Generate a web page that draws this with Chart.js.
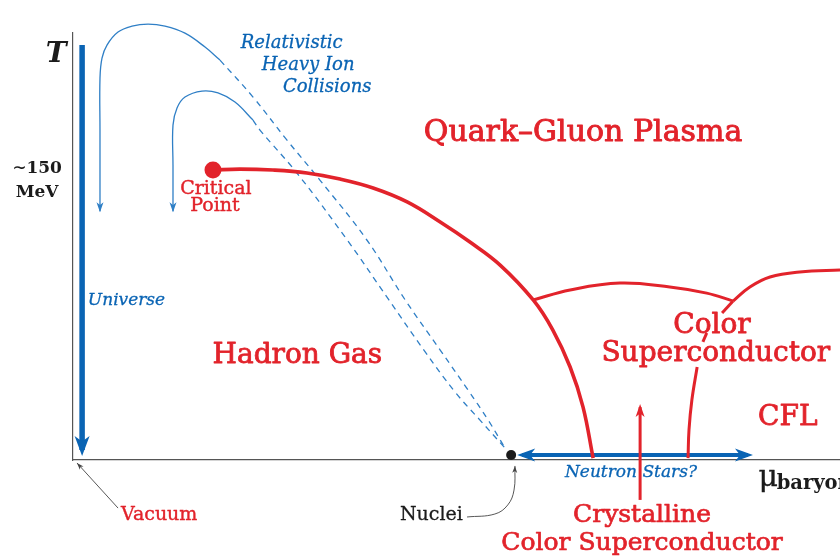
<!DOCTYPE html>
<html>
<head>
<meta charset="utf-8">
<title>QCD phase diagram</title>
<script src="https://cdn.jsdelivr.net/npm/chart.js@4.4.0/dist/chart.umd.min.js"></script>
<style>
    html, body { margin: 0; padding: 0; background: #fff; overflow: hidden; }
    #wrap { width: 840px; height: 557px; }
    canvas { display: block; }
</style>
</head>
<body>
<div id="wrap"><canvas id="phaseChart" width="840" height="557"></canvas></div>
<script>
// axis ranges: baryon chemical potential (x) and temperature (y), MeV
const MU_MAX = 1600;
const T_MAX = 230;

// phase boundaries, [mu, T]
const transitionLine = [[292, 156.2], [348, 156.7], [417, 156.2], [488, 154.6], [557, 151.3], [626, 146.5], [697, 139], [766, 128.2], [828, 117.4], [891, 105], [960, 86.2], [1001, 70], [1037, 50.1], [1064, 28.5], [1085, 1]];
const criticalPoint = [[292, 156.2]];
const scUpperLine = [[960, 86.2], [1037, 91.6], [1141, 95.3], [1245, 93.2], [1322, 89.9], [1377, 85.6]];
const cflUpperLine = [[1377, 85.6], [1412, 93.2], [1454, 98.6], [1516, 101.3], [1600, 102.3], [1640, 102.6]];
const cflLineTop = [[1377, 85.6], [1354, 79.2]];
const cflLineMid = [[1322, 68.4], [1314, 63.6]];
const cflLineLow = [[1302, 50.1], [1291, 32.3], [1285, 16.2], [1283, 1]];
const crystallineArrow = [[1183, -21.5], [1183, 28.5]];

// trajectories
const universeLine = [[19, 223.5], [19, 5.4]];
const neutronStars = [[937, 2.7], [1408, 2.7]];
const nucleiPoint = [[914, 2.7]];
const outerSolid = [[306.6, 215.4], [275.4, 222.4], [233.6, 229.9], [191.9, 233.7], [156.5, 234.8], [123.1, 233.7], [93.9, 230.5], [70.9, 223.5], [60.5, 216.5], [56.3, 205.7], [56.3, 177.7], [56.3, 134]];
const outerDashed = [[306.6, 215.4], [375.5, 195.5], [446, 172.4], [515, 150.8], [613, 118.5], [693, 86.2], [766, 59.2], [824, 37.7], [866, 21.5], [901, 6.5]];
const innerSolid = [[375.5, 183.1], [337.9, 192.8], [302.5, 197.7], [269.1, 198.7], [233.6, 195.5], [217, 189.6], [208.6, 180.4], [208.6, 158.9], [208.6, 134]];
const innerDashed = [[375.5, 183.1], [390, 177.7], [467, 154.6], [572, 118.5], [659, 86.2], [732, 59.2], [797, 36.6], [849, 21.5], [901, 6.5]];

// pointers below the axis
const vacuumPointer = [[94, -25.9], [8.3, -1.6]];
const nucleiPointer = [[822, -30.7], [880, -29.1], [907, -24.2], [920, -16.2], [922, -3.2]];

const RED = '#e2232b';
const BLUE = '#0a64b4';
const THIN_BLUE = '#2f7fc6';
const INK = '#1b1b1b';
const GRAY = '#555';

// text: [text, mu, T, align, size, style, color, extra weight]
const diagramLabels = [
    ['T', -35, 214.4, 'center', 28, 'italic bold', INK, 0],
    ['\u223C150', -75, 154.6, 'center', 17, 'bold', INK, 0],
    ['MeV', -75, 141.7, 'center', 17, 'bold', INK, 0],
    ['Relativistic', 350, 221.9, 'left', 18, 'italic', BLUE, 0.3],
    ['Heavy Ion', 394, 210.1, 'left', 18, 'italic', BLUE, 0.3],
    ['Collisions', 438, 198.2, 'left', 18, 'italic', BLUE, 0.3],
    ['Quark\u2013Gluon Plasma', 1064, 171.8, 'center', 30, '', RED, 0.9],
    ['Critical', 298, 143.3, 'center', 19, '', RED, 0.4],
    ['Point', 296, 134.1, 'center', 19, '', RED, 0.4],
    ['Universe', 31, 83.5, 'left', 17, 'italic', BLUE, 0.3],
    ['Hadron Gas', 468, 52.2, 'center', 28, '', RED, 0.8],
    ['Color', 1333, 68.4, 'center', 28, '', RED, 0.8],
    ['Superconductor', 1341, 53.3, 'center', 28, '', RED, 0.8],
    ['CFL', 1491, 18.9, 'center', 28, '', RED, 0.8],
    ['Neutron Stars?', 1164, -9.2, 'center', 17, 'italic', BLUE, 0.3],
    ['\u03BC', 1430, -14, 'left', 30, '', INK, 0.4],
    ['baryon', 1468, -15.6, 'left', 19.5, 'bold', INK, 0],
    ['Vacuum', 100, -32.3, 'left', 19, '', RED, 0.4],
    ['Nuclei', 682, -32.3, 'left', 19, '', INK, 0.3],
    ['Crystalline', 1187, -33.4, 'center', 25, '', RED, 0.7],
    ['Color Superconductor', 1187, -48.5, 'center', 25, '', RED, 0.7]
];

function line(data, color, width, extra) {
    return Object.assign({
        data: data,
        showLine: true,
        borderColor: color,
        backgroundColor: color,
        borderWidth: width,
        pointRadius: 0,
        tension: 0,
        clip: false
    }, extra || {});
}

function drawHead(ctx, tip, from, len, wid, color, ext) {
    const ang = Math.atan2(tip.y - from.y, tip.x - from.x);
    ctx.save();
    ctx.translate(tip.x + Math.cos(ang) * ext, tip.y + Math.sin(ang) * ext);
    ctx.rotate(ang);
    ctx.fillStyle = color;
    ctx.beginPath();
    ctx.moveTo(0, 0);
    ctx.lineTo(-len, wid / 2);
    ctx.lineTo(-len * 0.72, 0);
    ctx.lineTo(-len, -wid / 2);
    ctx.closePath();
    ctx.fill();
    ctx.restore();
}

const arrowPlugin = {
    id: 'arrowHeads',
    afterDatasetsDraw(chart) {
        const ctx = chart.ctx;
        chart.data.datasets.forEach((ds, i) => {
            if (!ds.arrow) return;
            const pts = chart.getDatasetMeta(i).data;
            const n = pts.length;
            const a = ds.arrow;
            const ext = a.ext || 0;
            if (a.end) drawHead(ctx, pts[n - 1], pts[n - 2], a.len, a.wid, ds.borderColor, ext);
            if (a.start) drawHead(ctx, pts[0], pts[1], a.len, a.wid, ds.borderColor, ext);
        });
    }
};

const labelPlugin = {
    id: 'diagramLabels',
    afterDatasetsDraw(chart) {
        const { ctx, scales: { x, y } } = chart;
        ctx.save();
        ctx.textBaseline = 'alphabetic';
        ctx.lineJoin = 'round';
        diagramLabels.forEach(([text, mu, t, align, size, style, color, weight]) => {
            const px = x.getPixelForValue(mu);
            const py = y.getPixelForValue(t);
            ctx.font = `${style} ${size}px "DejaVu Serif", serif`;
            ctx.textAlign = align;
            ctx.fillStyle = color;
            ctx.fillText(text, px, py);
            if (weight) {
                // a thin outline makes the glyphs a touch heavier
                ctx.strokeStyle = color;
                ctx.lineWidth = weight;
                ctx.strokeText(text, px, py);
            }
        });
        ctx.restore();
    }
};

const datasets = [
    line(criticalPoint, RED, 0, { showLine: false, pointRadius: 8.5 }),
    line(nucleiPoint, INK, 0, { showLine: false, pointRadius: 5 }),
    line(transitionLine, RED, 3.6, { tension: 0.4 }),
    line(scUpperLine, RED, 3, { tension: 0.4 }),
    line(cflUpperLine, RED, 3, { tension: 0.4 }),
    line(cflLineTop, RED, 3),
    line(cflLineMid, RED, 3),
    line(cflLineLow, RED, 3, { tension: 0.4 }),
    line(crystallineArrow, RED, 3, { arrow: { end: true, len: 13, wid: 9, ext: 3 } }),
    line(neutronStars, BLUE, 4, { arrow: { end: true, start: true, len: 18, wid: 13, ext: 5 } }),
    line(universeLine, BLUE, 5.5, { arrow: { end: true, len: 20, wid: 15, ext: 6 } }),
    line(outerSolid, THIN_BLUE, 1.3, { tension: 0.4, arrow: { end: true, len: 10, wid: 7, ext: 1 } }),
    line(outerDashed, THIN_BLUE, 1.3, { tension: 0.4, borderDash: [6, 5] }),
    line(innerSolid, THIN_BLUE, 1.3, { tension: 0.4, arrow: { end: true, len: 10, wid: 7, ext: 1 } }),
    line(innerDashed, THIN_BLUE, 1.3, { tension: 0.4, borderDash: [6, 5] }),
    line(vacuumPointer, '#444', 0.9, { arrow: { end: true, len: 7, wid: 5, ext: 0 } }),
    line(nucleiPointer, '#444', 0.9, { tension: 0.4, arrow: { end: true, len: 7, wid: 5, ext: 0 } })
];

new Chart(document.getElementById('phaseChart'), {
    type: 'scatter',
    data: { datasets: datasets },
    options: {
        responsive: false,
        animation: false,
        events: [],
        layout: { autoPadding: false, padding: { top: 33, right: 0, bottom: 0, left: 0 } },
        plugins: {
            legend: { display: false },
            tooltip: { enabled: false }
        },
        scales: {
            x: {
                type: 'linear',
                min: 0,
                max: MU_MAX,
                grid: { display: false },
                ticks: { display: false },
                border: { display: true, color: GRAY, width: 1.2 },
                afterFit: s => { s.height = 97; }
            },
            y: {
                type: 'linear',
                min: 0,
                max: T_MAX,
                grid: { display: false },
                ticks: { display: false },
                border: { display: true, color: GRAY, width: 1.2 },
                afterFit: s => { s.width = 73; }
            }
        }
    },
    plugins: [arrowPlugin, labelPlugin]
});
</script>
</body>
</html>
